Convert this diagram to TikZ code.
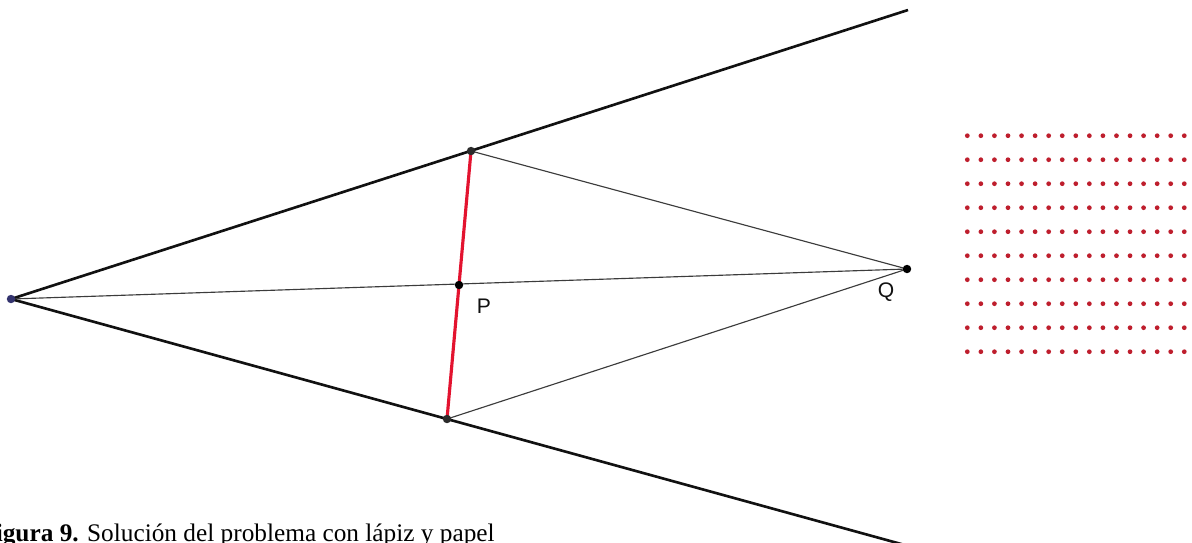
\documentclass[tikz,border=0pt]{standalone}
\usepackage{fontspec}
\setmainfont{Liberation Serif}
\setsansfont{Liberation Sans}
\usetikzlibrary{calc}
\definecolor{ink}{HTML}{111111}
\definecolor{thinink}{HTML}{3C3C3C}
\definecolor{segred}{HTML}{E3132F}
\definecolor{dotred}{HTML}{BE1E2D}
\definecolor{ptgray}{HTML}{2B2B2B}
\definecolor{ptblue}{HTML}{33336E}
\tikzset{
  ray/.style={draw=ink,line width=1.5pt},
  thin/.style={draw=thinink,line width=0.65pt},
  redseg/.style={draw=segred,line width=1.8pt},
  pt/.style={circle,fill=ptgray,inner sep=0pt,minimum size=4.8pt},
  ptlabel/.style={font=\sffamily\fontsize{12}{14}\selectfont,text=ink,inner sep=0pt},
  griddot/.style={circle,fill=dotred,inner sep=0pt,minimum size=2.7pt}
}

\begin{document}
\begin{tikzpicture}[x=0.02cm,y=-0.02cm]
    \useasboundingbox (0,0) rectangle (1192,542);
    \clip (0,0) rectangle (1192,542);
    % points of the construction
    \coordinate (O) at (11,299);
    \coordinate (A) at (471,151);
    \coordinate (B) at (447,419);
    \coordinate (P) at (459,285);
    \coordinate (Q) at (907,269);
    \coordinate (U) at (908,10);
    \coordinate (D) at ($(O)!2.2!(B)$);
    % the two rays
    \draw[ray] (O) -- (U);
    \draw[ray] (O) -- (D);
    % lines to Q
    \draw[thin] (O) -- (Q);
    \draw[thin] (A) -- (Q);
    \draw[thin] (B) -- (Q);
    \draw[redseg] (A) -- (B);
    % markers
    \node[pt,fill=ptblue] (o) at (O) {};
    \node[pt] (a) at (A) {};
    \node[pt] (b) at (B) {};
    \node[pt,fill=black] (p) at (P) {};
    \node[pt,fill=black] (q) at (Q) {};
    \node[ptlabel] (plab) at (484,306) {P};
    \node[ptlabel] (qlab) at (886,292) {Q};
    % dot pattern
    \foreach \i in {0,...,17}
      \foreach \j in {0,...,9}
        \node[griddot] at (967.3+13.56*\i,135.7+24*\j) {};
    % caption
    \node[anchor=base west,inner sep=0pt,font=\fontsize{14.4}{16}\selectfont]
      (cap) at (-20,541) {\textbf{Figura 9.} Solución del problema con lápiz y papel};
\end{tikzpicture}
\end{document}
